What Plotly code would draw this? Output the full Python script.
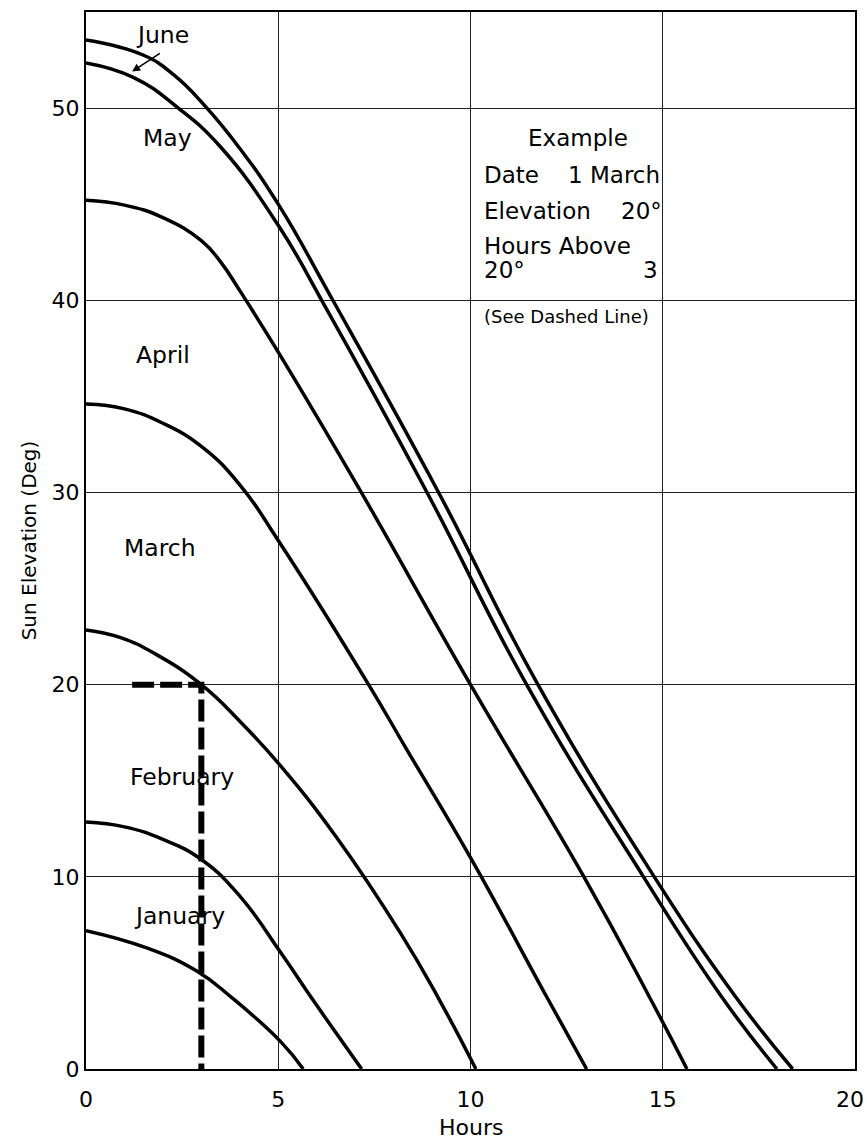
import plotly.graph_objects as go

# Sun elevation (deg) against hours, one curve per month
hours_top = [0, 1.5, 2.3, 3.1, 4.0, 5.0, 6.42, 9.17, 11.7, 14.78, 16.88, 18.38]
elev_top = [53.55, 52.75, 51.7, 50.1, 47.9, 45.0, 40.0, 30.0, 20.2, 10.0, 3.8, 0.0]

hours_june = [0, 1.23, 2.4, 3.49, 5.0, 6.13, 8.87, 11.46, 14.5, 16.53, 17.97]
elev_june = [52.35, 51.6, 50.0, 48.0, 43.9, 40.0, 30.0, 20.0, 10.0, 3.76, 0.0]

hours_may = [0, 1.0, 2.0, 3.0, 3.5, 4.0, 5.0, 7.16, 10.0, 12.95, 14.65, 15.63]
elev_may = [45.2, 44.95, 44.3, 43.1, 42.0, 40.5, 37.3, 30.0, 20.0, 10.0, 3.76, 0.0]

hours_april = [0, 1.0, 2.0, 3.0, 4.0, 5.0, 7.35, 8.32, 10.0, 11.98, 13.02]
elev_april = [34.6, 34.35, 33.6, 32.4, 30.4, 27.5, 20.0, 16.7, 11.0, 3.76, 0.0]

hours_march = [0, 0.9, 1.8, 3.0, 4.0, 5.05, 6.5, 8.18, 9.19, 10.14]
elev_march = [22.85, 22.45, 21.6, 20.0, 18.1, 15.8, 12.1, 7.07, 3.6, 0.0]

hours_feb = [0, 1.0, 2.0, 3.0, 4.0, 5.05, 5.9, 7.17]
elev_feb = [12.85, 12.6, 11.95, 10.9, 9.0, 6.1, 3.6, 0.0]

hours_jan = [0, 1.58, 2.88, 3.8, 5.05, 5.65]
elev_jan = [7.2, 6.3, 5.1, 3.7, 1.45, 0.0]

# Worked example: 1 March, 20 degrees, 3 hours
example_hours = 3
example_elev = 20
example_start = 1.2

month_labels = ["June", "May", "April", "March", "February", "January"]
label_x = [1.98, 2.12, 2.0, 1.93, 2.49, 2.42]
label_y = [53.8, 48.45, 37.15, 27.1, 15.17, 7.96]

x_ticks = [0, 5, 10, 15, 20]
y_ticks = [0, 10, 20, 30, 40, 50]

FONT = "DejaVu Sans, Verdana, sans-serif"

fig = go.Figure()
curves = [
    (hours_top, elev_top), (hours_june, elev_june), (hours_may, elev_may),
    (hours_april, elev_april), (hours_march, elev_march),
    (hours_feb, elev_feb), (hours_jan, elev_jan),
]
for hx, ey in curves:
    fig.add_trace(go.Scatter(
        x=hx, y=ey, mode="lines",
        line=dict(color="black", width=3.5, shape="spline", smoothing=1.3),
        hoverinfo="skip", showlegend=False,
    ))

# dashed construction line for the example
fig.add_trace(go.Scatter(
    x=[example_start, example_hours, example_hours],
    y=[example_elev, example_elev, 0],
    mode="lines",
    line=dict(color="black", width=6, dash="22px,6px"),
    hoverinfo="skip", showlegend=False,
))

annotations = []
for name, lx, ly in zip(month_labels, label_x, label_y):
    annotations.append(dict(x=lx, y=ly, xref="x", yref="y", text=name,
                            showarrow=False, font=dict(size=23.5, color="black")))

# arrow from the June label down to its curve
annotations.append(dict(x=1.2, y=51.9, ax=1.96, ay=52.9, xref="x", yref="y",
                        axref="x", ayref="y", text="", showarrow=True,
                        arrowhead=2, arrowsize=1.0, arrowwidth=1.6,
                        arrowcolor="black"))

box_left = 10.3
box_right = 14.98
box_text = [
    (12.79, 48.45, "Example", "center"),
    (box_left, 46.51, "Date", "left"),
    (box_right, 46.51, "1 March", "right"),
    (box_left, 44.66, "Elevation", "left"),
    (box_right + 0.05, 44.66, "20°", "right"),
    (box_left, 42.84, "Hours Above", "left"),
    (box_left, 41.57, "20°", "left"),
    (box_right - 0.05, 41.57, "3", "right"),
]
for bx, by, txt, anchor in box_text:
    annotations.append(dict(x=bx, y=by, xref="x", yref="y", text=txt,
                            xanchor=anchor, showarrow=False,
                            font=dict(size=23, color="black")))

annotations.append(dict(x=box_left, y=39.14, xref="x", yref="y", xanchor="left",
                        text="(See Dashed Line)", showarrow=False,
                        font=dict(size=18, color="black")))

annotations.append(dict(x=10.0, y=0.0, xref="x", yref="paper", yanchor="top",
                        yshift=-44, text="Hours", showarrow=False,
                        font=dict(size=22, color="black")))

# last x tick label sits at the page edge, so it is right-aligned there
annotations.append(dict(x=1.0, y=0.0, xref="paper", yref="paper",
                        xanchor="right", yanchor="top", xshift=11, yshift=-16,
                        text=str(x_ticks[-1]), showarrow=False,
                        font=dict(size=22, color="black")))

fig.update_layout(
    width=867, height=1139,
    margin=dict(l=86, r=12, t=12, b=70),
    paper_bgcolor="white", plot_bgcolor="white",
    font=dict(family=FONT, size=22, color="black"),
    annotations=annotations,
    showlegend=False,
)
fig.update_xaxes(
    range=[0, 20], tickvals=x_ticks,
    ticktext=[str(v) for v in x_ticks[:-1]] + [""], ticks="",
    showgrid=True, gridcolor="#222", gridwidth=1,
    showline=True, linecolor="black", linewidth=2, mirror=True,
    zeroline=False, tickfont=dict(size=22), ticklabelstandoff=10,
    ticklabeloverflow="allow", automargin=False,
)
fig.update_yaxes(
    range=[0, 55], tickvals=y_ticks, ticks="",
    showgrid=True, gridcolor="#222", gridwidth=1,
    showline=True, linecolor="black", linewidth=2, mirror=True,
    zeroline=False, tickfont=dict(size=22), ticklabelstandoff=0,
    ticklabeloverflow="allow", automargin=False,
    title=dict(text="Sun Elevation (Deg)", font=dict(size=20), standoff=10),
)

fig.write_html("out.html")
